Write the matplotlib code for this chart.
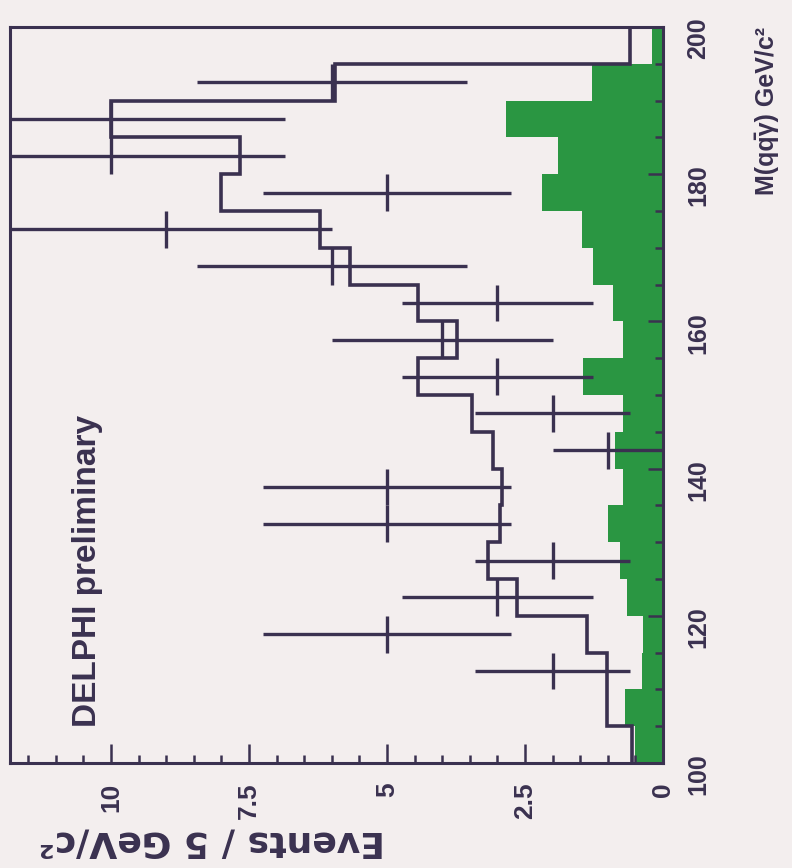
import numpy as np
import matplotlib.pyplot as plt
from matplotlib.ticker import MultipleLocator, FixedLocator

# 5 GeV/c^2 bins of M(q qbar gamma)
mass_edges = [100, 105, 110, 115, 120, 125, 130, 135, 140, 145, 150,
              155, 160, 165, 170, 175, 180, 185, 190, 195, 200]
mass_centres = [102.5, 107.5, 112.5, 117.5, 122.5, 127.5, 132.5, 137.5, 142.5, 147.5,
                152.5, 157.5, 162.5, 167.5, 172.5, 177.5, 182.5, 187.5, 192.5, 197.5]

# green histogram (background part)
bkg = [0.50, 0.69, 0.38, 0.36, 0.65, 0.78, 1.00, 0.72, 0.87, 0.72,
       1.45, 0.72, 0.90, 1.27, 1.47, 2.19, 1.90, 2.84, 1.29, 0.20]
# total expectation (step line)
mc_total = [0.56, 1.01, 1.01, 1.38, 2.64, 3.17, 2.95, 2.92, 3.08, 3.46,
            4.44, 3.73, 4.44, 5.67, 6.21, 8.00, 7.66, 10.0, 5.95, 0.60]
# data
n_obs = [0, 0, 2, 5, 3, 2, 5, 5, 1, 2, 3, 4, 3, 6, 9, 5, 10, 10, 6, 0]
n_err = [0, 0, 1.41, 2.24, 1.73, 1.41, 2.24, 2.24, 1.0, 1.41,
         1.73, 2.0, 1.73, 2.45, 3.0, 2.24, 3.16, 3.16, 2.45, 0]

event_ticks = [0, 2.5, 5, 7.5, 10]
event_labels = ['0', '2.5', '5', '7.5', '10']

ink = '#3a3150'
green = '#2a9642'
paper = '#f3eeee'
narrow = ['Liberation Sans', 'DejaVu Sans']

plt.rcParams['font.family'] = narrow
plt.rcParams['font.weight'] = 'bold'

fig = plt.figure(figsize=(7.92, 8.68), dpi=100, facecolor=paper)
ax = fig.add_axes([10/792, 105/868, 653/792, 736/868])
ax.set_facecolor(paper)

# the picture is the usual plot turned a quarter turn: mass runs upward, events leftward
ax.stairs(bkg, mass_edges, orientation='horizontal', fill=True, baseline=0,
          color=green, lw=0)
ax.stairs(mc_total, mass_edges, orientation='horizontal', baseline=None,
          color=ink, lw=2.6)

keep = [i for i in range(len(n_obs)) if n_obs[i] > 0]
ax.errorbar([n_obs[i] for i in keep], [mass_centres[i] for i in keep],
            xerr=[n_err[i] for i in keep], yerr=2.5, fmt='none',
            ecolor=ink, elinewidth=2.4, capsize=0)

ax.set_xlim(11.83, 0)
ax.set_ylim(100, 200)

ax.xaxis.set_major_locator(FixedLocator(event_ticks))
ax.set_xticklabels(event_labels, fontweight='bold')
ax.xaxis.set_minor_locator(MultipleLocator(0.5))
ax.tick_params(axis='x', which='both', direction='in', bottom=True, top=False,
               width=1.8, color=ink, labelcolor=ink)
ax.tick_params(axis='x', which='major', length=14, pad=14, labelsize=19, labelrotation=90)
ax.tick_params(axis='x', which='minor', length=6)

ax.yaxis.tick_right()
ax.yaxis.set_major_locator(MultipleLocator(20))
ax.yaxis.set_minor_locator(MultipleLocator(5))
ax.tick_params(axis='y', which='both', direction='in', left=False, right=True,
               width=1.8, color=ink, labelcolor=ink)
ax.tick_params(axis='y', which='major', length=11, pad=17, labelsize=18, labelrotation=90)
ax.tick_params(axis='y', which='minor', length=6)

for sp in ax.spines.values():
    sp.set_color(ink)
    sp.set_linewidth(2.2)

ax.text(0.119, 0.049, 'DELPHI preliminary', transform=ax.transAxes, rotation=90,
        ha='center', va='bottom', fontsize=24, weight='bold', color=ink)

ax.text(1.159, 1.0, 'M(qq\u0304\u03b3) GeV/c\u00b2', transform=ax.transAxes,
        rotation=90, ha='center', va='top', fontsize=18, weight='bold', color=ink)

fig.text(212/792, 1 - 842/868, 'Events / 5 GeV/c²', rotation=180, ha='center',
         va='center', fontsize=26, family='DejaVu Sans', weight='bold', color=ink)

plt.savefig('out.png', dpi=100, facecolor=paper)
